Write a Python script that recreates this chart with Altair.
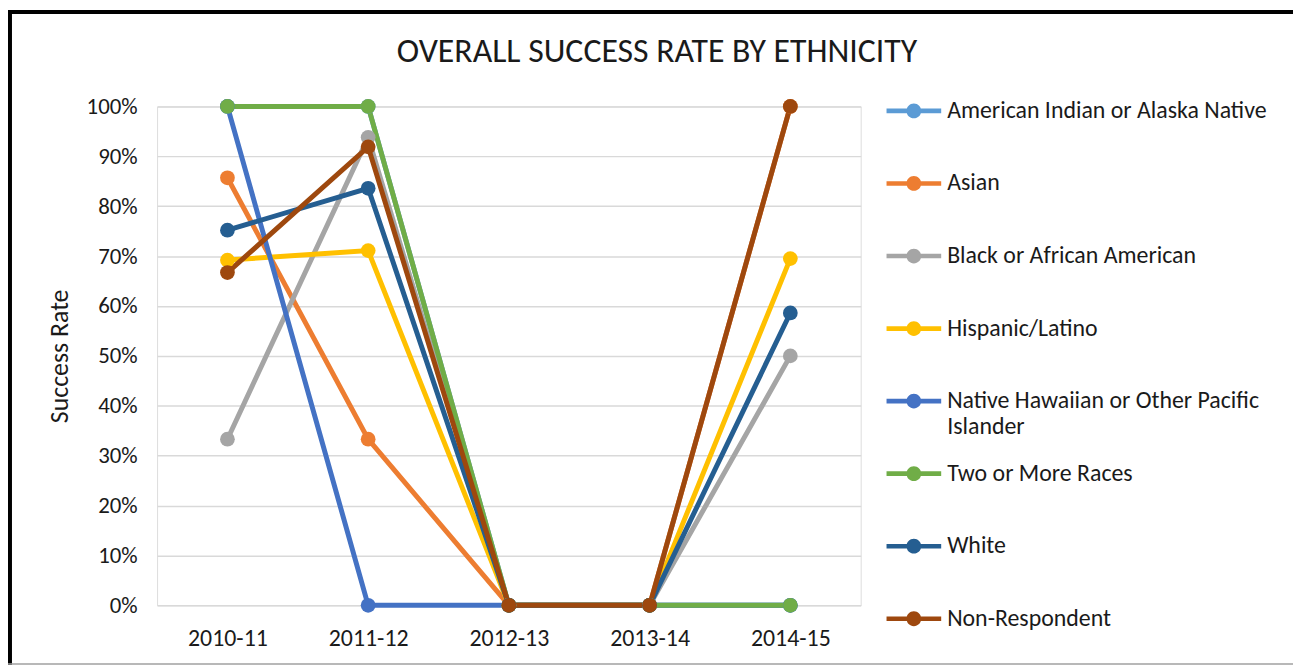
import altair as alt
import pandas as pd

years = ["2010-11", "2011-12", "2012-13", "2013-14", "2014-15"]
series = [
    "American Indian or Alaska Native",
    "Asian",
    "Black or African American",
    "Hispanic/Latino",
    "Native Hawaiian or Other Pacific Islander",
    "Two or More Races",
    "White",
    "Non-Respondent",
]
colors = ["#5B9BD5", "#ED7D31", "#A5A5A5", "#FFC000", "#4472C4", "#70AD47", "#255E91", "#9E480E"]
title_text = "OVERALL SUCCESS RATE BY ETHNICITY"

american_indian = [1.0, 1.0, 0.0, 0.0, 0.0]
asian = [0.857, 0.333, 0.0, 0.0, 1.0]
black = [0.333, 0.938, 0.0, 0.0, 0.5]
hispanic = [0.692, 0.711, 0.0, 0.0, 0.695]
native_hawaiian = [1.0, 0.0, 0.0, 0.0, 0.0]
two_or_more = [1.0, 1.0, 0.0, 0.0, 0.0]
white = [0.752, 0.836, 0.0, 0.0, 0.586]
non_respondent = [0.667, 0.919, 0.0, 0.0, 1.0]

values = [american_indian, asian, black, hispanic, native_hawaiian, two_or_more, white, non_respondent]

rows = []
for s, vals in zip(series, values):
    for y, v in zip(years, vals):
        rows.append({"Ethnicity": s, "Year": y, "Rate": v})
df = pd.DataFrame(rows)

FONT = "Carlito, Calibri, Lato, sans-serif"
TXT = "#1a1a1a"

# legend symbol: line with a dot in the middle
SYM = ("M-1,-0.085L1,-0.085L1,0.085L-1,0.085Z"
       "M-0.27,0A0.27,0.27 0 1,1 0.27,0A0.27,0.27 0 1,1 -0.27,0Z")

color = alt.Color(
    "Ethnicity:N",
    scale=alt.Scale(domain=series, range=colors),
    sort=series,
    legend=alt.Legend(
        title=None,
        orient="none",
        legendX=734,
        legendY=-23,
        symbolType=SYM,
        symbolSize=3025,
        symbolStrokeWidth=0,
        labelFont=FONT,
        labelFontSize=24,
        labelColor=TXT,
        labelLimit=420,
        labelOffset=6,
        gridAlign="all",
        rowPadding=7,
        padding=0,
        labelExpr="datum.label == 'Native Hawaiian or Other Pacific Islander' ? ['Native Hawaiian or Other Pacific', 'Islander'] : datum.label",
    ),
)

x = alt.X(
    "Year:O",
    sort=years,
    title=None,
    scale=alt.Scale(domain=years, paddingInner=0, paddingOuter=0.5),
    axis=alt.Axis(labelFont=FONT, labelFontSize=24, labelColor=TXT, labelAngle=0,
                  ticks=False, domain=False, labelPadding=21),
)
y = alt.Y(
    "Rate:Q",
    title="Success Rate",
    scale=alt.Scale(domain=[0, 1], nice=False),
    axis=alt.Axis(format=".0%", values=[i / 10 for i in range(11)], labelFont=FONT,
                  labelFontSize=23, labelColor=TXT, ticks=False, domain=False,
                  labelPadding=20, grid=True, gridColor="#D9D9D9", gridWidth=1.5,
                  titleFont=FONT, titleFontSize=26, titleFontWeight="normal",
                  titleColor=TXT, titlePadding=14),
)

lines = alt.Chart(df).mark_line(strokeWidth=5).encode(
    x=x, y=y, color=color, detail="Ethnicity:N"
)
points = alt.Chart(df).mark_circle(size=220, opacity=1).encode(
    x=x, y=y, color=color
)

frame_df = pd.DataFrame({"k": [0]})
title_mark = alt.Chart(pd.DataFrame({"t": [title_text]})).mark_text(
    font=FONT, fontSize=34, color=TXT, align="center", baseline="alphabetic"
).encode(text="t:N", x=alt.value(503), y=alt.value(-45))
top_line = alt.Chart(frame_df).mark_rule(color="black", strokeWidth=4).encode(
    x=alt.value(-150), x2=alt.value(1143), y=alt.value(-95)
)
left_line = alt.Chart(frame_df).mark_rule(color="black", strokeWidth=4).encode(
    x=alt.value(-148), y=alt.value(-97), y2=alt.value(562)
)
bottom_line = alt.Chart(frame_df).mark_rule(color="#A0A0A0", strokeWidth=1.5).encode(
    x=alt.value(-150), x2=alt.value(1143), y=alt.value(561)
)

chart = alt.layer(lines, points, title_mark, top_line, left_line, bottom_line).properties(
    width=708,
    height=502,
    autosize=alt.AutoSizeParams(type="none"),
    padding={"left": 150, "top": 97, "right": 435, "bottom": 60},
).configure_view(stroke=None).configure(background="white")

chart.save("out.html", embed_options={"renderer": "svg", "actions": False})
